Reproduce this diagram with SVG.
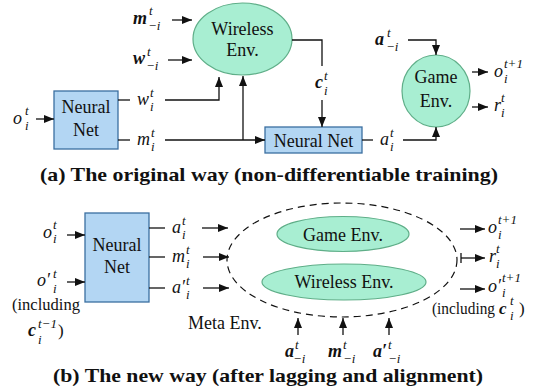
<svg xmlns="http://www.w3.org/2000/svg" width="537" height="391" viewBox="0 0 537 391" font-family="'Liberation Serif', serif">
<defs>
<marker id="ah" viewBox="0 0 10 8" refX="10" refY="4" markerWidth="10" markerHeight="8" markerUnits="userSpaceOnUse" orient="auto"><path d="M0,0 L10,4 L0,8 z" fill="#111"/></marker>
<style>
.n{font-family:'Liberation Serif',serif;font-size:18px;fill:#111}
.c{text-anchor:middle}
.i{font-style:italic}
.b{font-weight:bold}
.s{font-size:13px;font-weight:normal;font-style:italic}
.sm{font-size:17px}
.u{font-style:normal;font-weight:normal;font-size:17px}
.cap{font-family:'Liberation Serif',serif;font-size:19px;font-weight:bold;fill:#111;text-anchor:middle}
.box{fill:#b3d6f3;stroke:#3b6fa0;stroke-width:1.3}
.env{fill:#a8eed2;stroke:#5fae88;stroke-width:1.2}
.ln{fill:none;stroke:#111;stroke-width:1.3}
.ar{fill:none;stroke:#111;stroke-width:1.3;marker-end:url(#ah)}
.dash{fill:none;stroke:#111;stroke-width:1.2;stroke-dasharray:7 5}
</style>
</defs>

<!-- ===== (a) ===== -->
<g id="wireless-a">
<ellipse class="env" cx="242.5" cy="39" rx="49.5" ry="36"/>
<text class="n c" x="242.5" y="35">Wireless</text>
<text class="n c" x="242.5" y="56">Env.</text>
</g>
<g id="nn1-a">
<rect class="box" x="54" y="91" width="64" height="58"/>
<text class="n c" x="86" y="113">Neural</text>
<text class="n c" x="86" y="136">Net</text>
</g>
<g id="nn2-a">
<rect class="box" x="265" y="127" width="97" height="26"/>
<text class="n c" x="313.5" y="147">Neural Net</text>
</g>
<g id="game-a">
<ellipse class="env" cx="436" cy="91" rx="34" ry="36"/>
<text class="n c" x="436" y="83">Game</text>
<text class="n c" x="436" y="107">Env.</text>
</g>

<g id="labels-a">
<text class="n i b" x="133" y="24">m<tspan class="s" x="149" y="15">t</tspan><tspan class="s" x="148" y="30">−i</tspan></text>
<text class="n i b" x="133" y="64">w<tspan class="s" x="147" y="56">t</tspan><tspan class="s" x="146" y="70">−i</tspan></text>
<text class="n i" x="13" y="124">o<tspan class="s" x="25" y="115">t</tspan><tspan class="s" x="25" y="130">i</tspan></text>
<text class="n i" x="137" y="105">w<tspan class="s" x="150" y="97">t</tspan><tspan class="s" x="150" y="111">i</tspan></text>
<text class="n i" x="137" y="145">m<tspan class="s" x="151" y="137">t</tspan><tspan class="s" x="151" y="151">i</tspan></text>
<text class="n i b" x="315" y="88">c<tspan class="s" x="324" y="80">t</tspan><tspan class="s" x="324" y="95">i</tspan></text>
<text class="n i" x="380" y="145">a<tspan class="s" x="390" y="137">t</tspan><tspan class="s" x="390" y="151">i</tspan></text>
<text class="n i b" x="375" y="45">a<tspan class="s" x="387" y="37">t</tspan><tspan class="s" x="386" y="51">−i</tspan></text>
<text class="n i" x="494" y="77">o<tspan class="s" x="504" y="68">t+1</tspan><tspan class="s" x="504" y="83">i</tspan></text>
<text class="n i" x="494" y="111">r<tspan class="s" x="501" y="102">t</tspan><tspan class="s" x="501" y="117">i</tspan></text>
</g>

<g id="connectors-a">
<line class="ar" x1="172" y1="20" x2="192" y2="20"/>
<line class="ar" x1="168" y1="60" x2="192" y2="60"/>
<line class="ar" x1="36" y1="119" x2="54" y2="119"/>
<line class="ln" x1="118" y1="100" x2="130" y2="100"/>
<path class="ar" d="M165,100 H219 V77"/>
<line class="ln" x1="118" y1="140" x2="130" y2="140"/>
<line class="ar" x1="165" y1="140" x2="265" y2="140"/>
<line class="ar" x1="243" y1="140" x2="243" y2="76"/>
<path class="ln" d="M292,40 H322 V66"/>
<line class="ar" x1="322" y1="100" x2="322" y2="127"/>
<line class="ln" x1="362" y1="140" x2="373" y2="140"/>
<path class="ar" d="M403,140 H436 V127"/>
<path class="ar" d="M408,40 H436 V55"/>
<line class="ar" x1="472" y1="72" x2="488" y2="72"/>
<line class="ar" x1="472" y1="107" x2="488" y2="107"/>
</g>

<text class="cap" x="269" y="181" textLength="458" lengthAdjust="spacingAndGlyphs">(a) The original way (non-differentiable training)</text>

<!-- ===== (b) ===== -->
<g id="nn-b">
<rect class="box" x="85" y="213" width="64" height="89"/>
<text class="n c" x="117" y="251">Neural</text>
<text class="n c" x="117" y="273">Net</text>
</g>
<g id="meta-env-b">
<ellipse class="dash" cx="342" cy="260" rx="115" ry="57"/>
<text class="n" x="188" y="329">Meta Env.</text>
</g>
<g id="game-b">
<ellipse class="env" cx="343" cy="234" rx="66" ry="17.5"/>
<text class="n c" x="343" y="241">Game Env.</text>
</g>
<g id="wireless-b">
<ellipse class="env" cx="344" cy="282" rx="82" ry="18"/>
<text class="n c" x="344" y="288">Wireless Env.</text>
</g>

<g id="labels-b">
<text class="n i" x="43" y="238">o<tspan class="s" x="53" y="229">t</tspan><tspan class="s" x="53" y="243">i</tspan></text>
<text class="n i" x="37" y="286">o′<tspan class="s" x="53" y="278">t</tspan><tspan class="s" x="53" y="293">i</tspan></text>
<text class="n sm" x="12" y="310" textLength="68" lengthAdjust="spacingAndGlyphs">(including</text>
<text class="n i b" x="28" y="336">c<tspan class="s" x="38" y="328">t−1</tspan><tspan class="s" x="38" y="344">i</tspan><tspan class="u" x="58" y="336">)</tspan></text>
<text class="n i" x="172" y="233">a<tspan class="s" x="182" y="225">t</tspan><tspan class="s" x="182" y="239">i</tspan></text>
<text class="n i" x="172" y="262">m<tspan class="s" x="186" y="254">t</tspan><tspan class="s" x="186" y="268">i</tspan></text>
<text class="n i" x="172" y="293">a′<tspan class="s" x="186" y="285">t</tspan><tspan class="s" x="186" y="299">i</tspan></text>
<text class="n i" x="488" y="233">o<tspan class="s" x="498" y="224">t+1</tspan><tspan class="s" x="498" y="239">i</tspan></text>
<text class="n i" x="489" y="262">r<tspan class="s" x="496" y="253">t</tspan><tspan class="s" x="496" y="268">i</tspan></text>
<text class="n i" x="488" y="292">o′<tspan class="s" x="502" y="282">t+1</tspan><tspan class="s" x="502" y="297">i</tspan></text>
<text class="n sm" x="432" y="314"><tspan textLength="63" lengthAdjust="spacingAndGlyphs">(including</tspan><tspan class="i b" x="499" y="314">c</tspan><tspan class="s" x="510" y="305">t</tspan><tspan class="s" x="510" y="320">i</tspan><tspan x="519" y="314">)</tspan></text>
<text class="n i b" x="285" y="357">a<tspan class="s" x="295" y="349">t</tspan><tspan class="s" x="293" y="363">−i</tspan></text>
<text class="n i b" x="328" y="357">m<tspan class="s" x="343" y="349">t</tspan><tspan class="s" x="343" y="363">−i</tspan></text>
<text class="n i b" x="373" y="357">a′<tspan class="s" x="388" y="349">t</tspan><tspan class="s" x="388" y="363">−i</tspan></text>
</g>

<g id="connectors-b">
<line class="ar" x1="67" y1="235" x2="85" y2="235"/>
<line class="ar" x1="67" y1="282" x2="85" y2="282"/>
<line class="ln" x1="149" y1="228" x2="165" y2="228"/>
<line class="ln" x1="149" y1="257" x2="165" y2="257"/>
<line class="ln" x1="149" y1="288" x2="165" y2="288"/>
<line class="ar" x1="202" y1="228" x2="228" y2="228"/>
<line class="ar" x1="203" y1="257" x2="229" y2="257"/>
<line class="ar" x1="203" y1="288" x2="229" y2="288"/>
<line class="ar" x1="460" y1="229" x2="485" y2="229"/>
<line class="ln" x1="461" y1="253" x2="461" y2="263"/>
<line class="ar" x1="461" y1="258" x2="485" y2="258"/>
<line class="ar" x1="460" y1="289" x2="485" y2="289"/>
<line class="ar" x1="298" y1="335" x2="298" y2="318"/>
<line class="ar" x1="343" y1="335" x2="343" y2="318"/>
<line class="ar" x1="389" y1="335" x2="389" y2="318"/>
</g>

<text class="cap" x="268" y="382" textLength="430" lengthAdjust="spacingAndGlyphs">(b) The new way (after lagging and alignment)</text>
</svg>
